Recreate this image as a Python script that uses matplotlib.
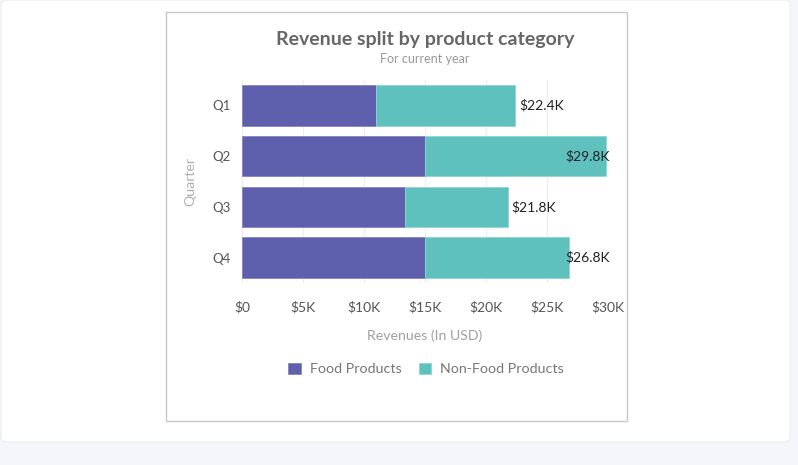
import matplotlib
matplotlib.use('Agg')
import matplotlib.pyplot as plt
from matplotlib.patches import Rectangle, FancyBboxPatch
from matplotlib.ticker import FuncFormatter

quarters = ['Q1', 'Q2', 'Q3', 'Q4']
food = [11.0, 15.0, 13.4, 15.0]
totals = [22.4, 29.8, 21.8, 26.8]
non_food = [t - f for t, f in zip(totals, food)]
xticks = [0, 5, 10, 15, 20, 25, 30]

W, H = 798, 465
PURPLE = '#5e60ad'
TEAL = '#5fc1bd'

plt.rcParams['font.family'] = ['Lato', 'DejaVu Sans']


def fx(x):
    return x / W


def fy(y):
    return 1 - y / H


def main():
    fig = plt.figure(figsize=(W / 100, H / 100), dpi=100)
    fig.patch.set_facecolor('#f5f6fb')

    # white card and chart frame, kept behind the axes
    card = FancyBboxPatch((fx(1), fy(442)), fx(789), 442 / H,
                          boxstyle='round,pad=0,rounding_size=0.01',
                          transform=fig.transFigure, facecolor='white',
                          edgecolor='#eef0f5', linewidth=1, zorder=-10)
    fig.patches.append(card)
    frame = Rectangle((fx(165.5), fy(421)), fx(461.5), 409 / H,
                      transform=fig.transFigure, facecolor='white',
                      edgecolor='#c8c8c8', linewidth=1, zorder=-9)
    fig.patches.append(frame)

    ax = fig.add_axes([fx(242), fy(283), fx(366), 203 / H])
    ax.set_facecolor('none')
    y = range(len(quarters))
    ax.barh(y, food, height=0.8, color=PURPLE, edgecolor='#8384c4',
            linewidth=0.6, label='Food Products', zorder=3)
    ax.barh(y, non_food, left=food, height=0.8, color=TEAL,
            edgecolor='#8fd6d3', linewidth=0.6, label='Non-Food Products',
            zorder=3)

    # total labels; pushed back inside when they would overflow the plot
    for i, t in enumerate(totals):
        if t + 3.8 > 30.15:
            ax.text(30.15, i, f'${t:.1f}K', ha='right', va='center',
                    fontsize=10, color='#222222', zorder=4)
        else:
            ax.text(t + 0.3, i, f'${t:.1f}K', ha='left', va='center',
                    fontsize=10, color='#222222', zorder=4)

    ax.set_xlim(0, 30)
    ax.set_ylim(3.5, -0.5)
    ax.set_xticks(xticks)
    ax.xaxis.set_major_formatter(
        FuncFormatter(lambda v, p: '$0' if v == 0 else f'${v:.0f}K'))
    ax.set_yticks(list(y))
    ax.set_yticklabels(quarters)
    ax.tick_params(length=0, labelsize=10, labelcolor='#555555')
    ax.tick_params(axis='x', pad=13)
    ax.tick_params(axis='y', pad=8, labelsize=9.5)
    ax.grid(axis='x', color='#eeeeee', linewidth=0.8, zorder=0)
    for s in ax.spines.values():
        s.set_visible(False)

    fig.text(fx(425), fy(39), 'Revenue split by product category',
             ha='center', va='center', fontsize=14, fontweight='bold',
             color='#666666')
    fig.text(fx(425), fy(59), 'For current year', ha='center', va='center',
             fontsize=9, color='#999999')
    fig.text(fx(425), fy(336), 'Revenues (In USD)', ha='center', va='center',
             fontsize=10.2, color='#a0a0a0')
    fig.text(fx(190), fy(182), 'Quarter', ha='center', va='center',
             rotation=90, fontsize=10.2, color='#b0b0b0')

    leg = fig.legend(loc='center', bbox_to_anchor=(fx(426), fy(369)),
                     ncol=2, frameon=False, fontsize=10.3, handlelength=0.9,
                     handleheight=0.9, handletextpad=0.6, columnspacing=1.2)
    for txt in leg.get_texts():
        txt.set_color('#777777')

    fig.savefig('out.png', dpi=100, facecolor=fig.get_facecolor())


if __name__ == '__main__':
    main()
